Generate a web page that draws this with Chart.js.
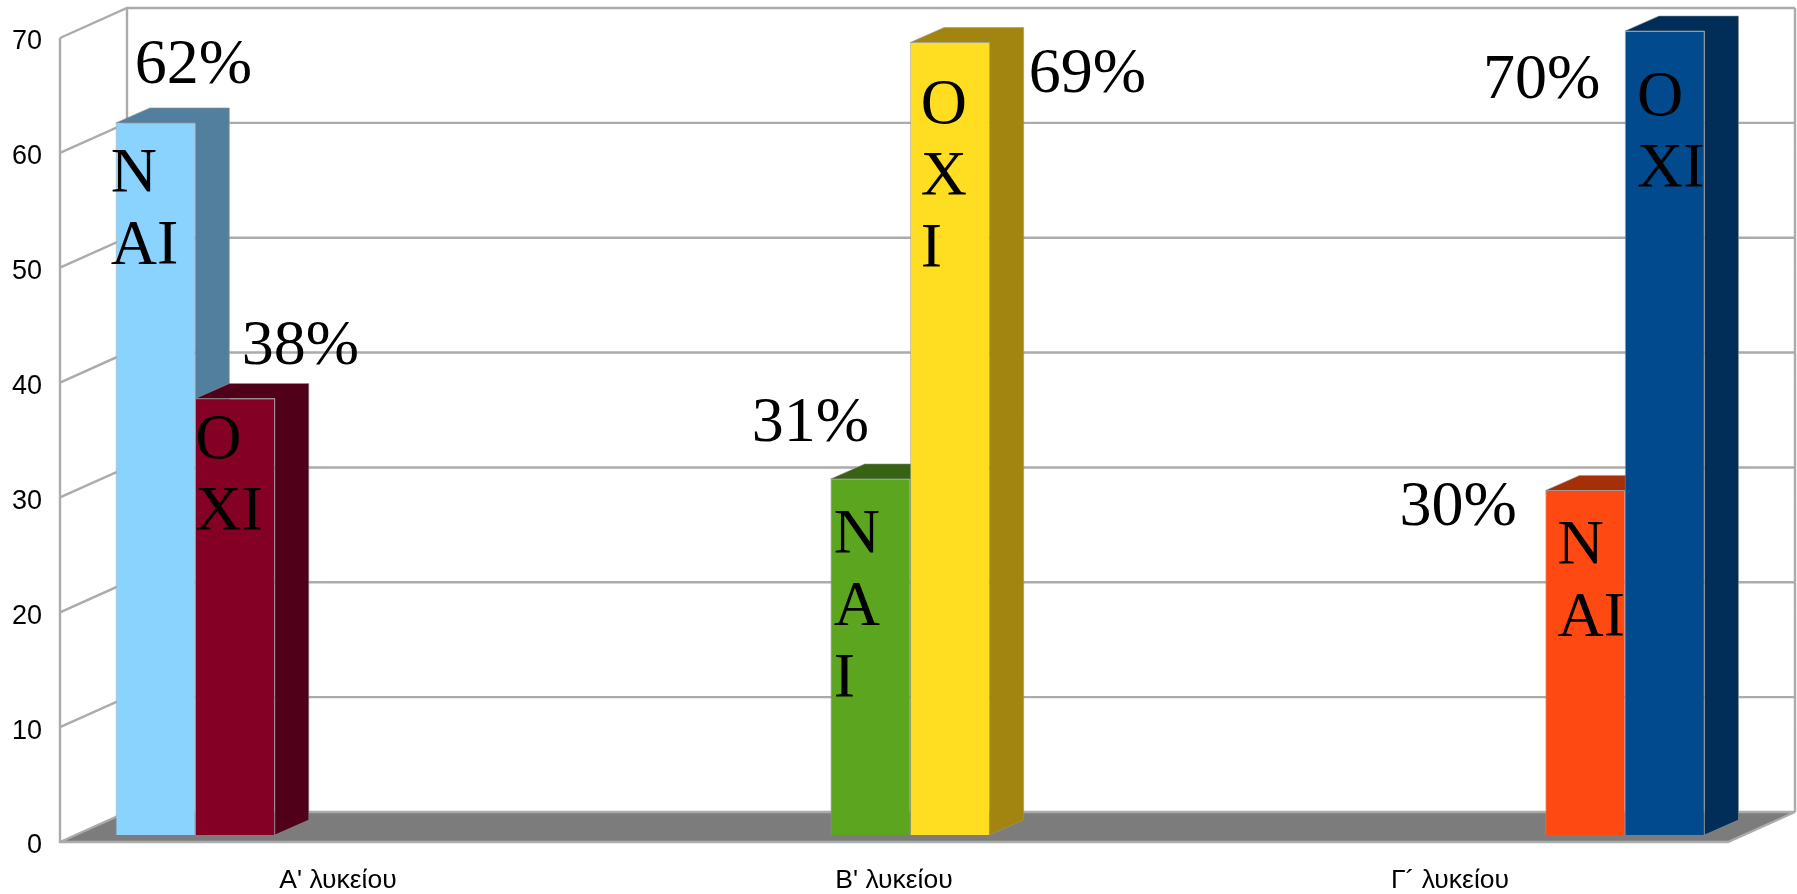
<!DOCTYPE html>
<html>
<head>
<meta charset="utf-8">
<style>html,body{margin:0;padding:0;background:#fff}canvas{display:block}</style>
<script src="https://cdn.jsdelivr.net/npm/chart.js@4/dist/chart.umd.min.js"></script>
</head>
<body>
<canvas id="c" width="1797" height="894"></canvas>
<script>
// ---- data ----
const categories = ["Α' λυκείου", "Β' λυκείου", "Γ´ λυκείου"];
const groupIndex = [0, 1, 2];
const naiValues = [62, 31, 30];
const oxiValues = [38, 69, 70];
const naiWords = [['Ν', 'ΑΙ'], ['Ν', 'Α', 'Ι'], ['Ν', 'ΑΙ']];
const oxiWords = [['Ο', 'ΧΙ'], ['Ο', 'Χ', 'Ι'], ['Ο', 'ΧΙ']];

// ---- style ----
const naiFront = ['#8AD3FF', '#5CA51E', '#FF4912'];
const naiSide  = ['#537F9F', '#376314', '#A53008'];
const oxiFront = ['#850025', '#FFDD20', '#004A8D'];
const oxiSide  = ['#51001A', '#A28510', '#002E59'];
const GRID = '#ABABAB', FLOOR = '#7C7C7C', EDGE = 'rgba(150,150,150,0.55)';
const WALL_DX = 67, WALL_DY = -30;
const BAR_DX = 34, BAR_DY = -15;
const SERIF = '"Liberation Serif", serif';
const SANS = '"Liberation Sans", sans-serif';
const BIG = 64, LINE = 72;

// label offsets from each bar's top-left corner
const pctOffsets = [
  [[19, -40], [-79, -38], [-146, 35]],
  [[46.5, -35], [118.5, 49.5], [-142, 67]]
];
const wordOffsets = [
  [[-5, 69], [3, 74], [12, 74]],
  [[0, 59.5], [10.5, 80.5], [12, 84]]
];

const wallsPlugin = {
  id: 'walls',
  beforeDatasetsDraw(chart) {
    const c = chart.ctx, a = chart.chartArea, y = chart.scales.y;
    const L = a.left, R = a.right, T = a.top, B = a.bottom;
    c.save();
    c.lineWidth = 2.4; c.strokeStyle = GRID;
    c.fillStyle = FLOOR;
    c.beginPath();
    c.moveTo(L, B); c.lineTo(L + WALL_DX, B + WALL_DY); c.lineTo(R + WALL_DX, B + WALL_DY); c.lineTo(R, B);
    c.closePath(); c.fill();
    c.beginPath();
    y.ticks.forEach(t => {
      const p = y.getPixelForValue(t.value);
      c.moveTo(L, p); c.lineTo(L + WALL_DX, p + WALL_DY); c.lineTo(R + WALL_DX, p + WALL_DY);
    });
    c.moveTo(L, T); c.lineTo(L, B); c.lineTo(R, B); c.lineTo(R + WALL_DX, B + WALL_DY);
    c.moveTo(L + WALL_DX, T + WALL_DY); c.lineTo(L + WALL_DX, B + WALL_DY);
    c.moveTo(R + WALL_DX, T + WALL_DY); c.lineTo(R + WALL_DX, B + WALL_DY);
    c.stroke();
    c.restore();
  }
};

function drawDepth(c, meta, side) {
  meta.data.forEach((bar, i) => {
    const l = bar.x - bar.width / 2, r = bar.x + bar.width / 2, t = bar.y, b = bar.base;
    c.save();
    c.fillStyle = side[i];
    c.strokeStyle = EDGE;
    c.lineWidth = 1;
    c.beginPath();
    c.moveTo(l, t); c.lineTo(l + BAR_DX, t + BAR_DY); c.lineTo(r + BAR_DX, t + BAR_DY);
    c.lineTo(r + BAR_DX, b + BAR_DY); c.lineTo(r, b); c.lineTo(r, t);
    c.closePath(); c.fill(); c.stroke();
    c.restore();
  });
}

// Left-hand series' depth goes first so the right-hand bars cover it.
const depthPlugin = {
  id: 'depth',
  beforeDatasetsDraw(chart) {
    drawDepth(chart.ctx, chart.getDatasetMeta(0), naiSide);
  },
  beforeDatasetDraw(chart, args) {
    if (args.index === 1) drawDepth(chart.ctx, args.meta, oxiSide);
  }
};

const textPlugin = {
  id: 'overlayText',
  afterDatasetsDraw(chart) {
    const c = chart.ctx;
    c.save();
    c.fillStyle = '#000';
    c.font = BIG + 'px ' + SERIF;
    c.textAlign = 'left';
    c.textBaseline = 'alphabetic';
    [naiValues, oxiValues].forEach((vals, d) => {
      const words = d === 0 ? naiWords : oxiWords;
      chart.getDatasetMeta(d).data.forEach((bar, i) => {
        const l = bar.x - bar.width / 2, t = bar.y;
        c.fillText(vals[i] + '%', l + pctOffsets[d][i][0], t + pctOffsets[d][i][1]);
        words[i].forEach((w, k) => {
          c.fillText(w, l + wordOffsets[d][i][0], t + wordOffsets[d][i][1] + k * LINE);
        });
      });
    });
    c.restore();
  }
};

const toPoints = vals => vals.map((v, i) => ({ x: groupIndex[i], y: v }));

new Chart(document.getElementById('c'), {
  type: 'bar',
  data: {
    labels: categories,
    datasets: [
      { label: 'ΝΑΙ', data: toPoints(naiValues), backgroundColor: naiFront, barThickness: 79.5,
        xAxisID: 'xBars', yAxisID: 'yBars', clip: false, borderWidth: 1, borderColor: EDGE },
      { label: 'ΟΧΙ', data: toPoints(oxiValues), backgroundColor: oxiFront, barThickness: 79.5,
        xAxisID: 'xBars', yAxisID: 'yBars', clip: false, borderWidth: 1, borderColor: EDGE }
    ]
  },
  options: {
    responsive: false,
    animation: false,
    layout: { padding: { top: 38, right: 69, left: 0, bottom: 0 } },
    plugins: { legend: { display: false }, tooltip: { enabled: false }, title: { display: false } },
    scales: {
      x: {
        type: 'category', position: 'bottom', offset: true,
        grid: { display: false, drawTicks: false }, border: { display: false },
        ticks: { color: '#000', font: { family: SANS, size: 26.5 }, padding: 23, maxRotation: 0 },
        afterFit(s) { s.height = 52; }
      },
      y: {
        type: 'linear', position: 'left', min: 0, max: 70,
        grid: { display: false, drawTicks: false }, border: { display: false },
        ticks: { color: '#000', stepSize: 10, font: { family: SANS, size: 27 }, padding: 18, labelOffset: 4 },
        afterFit(s) { s.width = 60; }
      },
      xBars: { type: 'linear', display: false, position: 'bottom', offset: false, min: -0.1893, max: 2.1441 },
      yBars: { type: 'linear', display: false, position: 'left', min: -0.61, max: 69.39 }
    }
  },
  plugins: [wallsPlugin, depthPlugin, textPlugin]
});
</script>
</body>
</html>
